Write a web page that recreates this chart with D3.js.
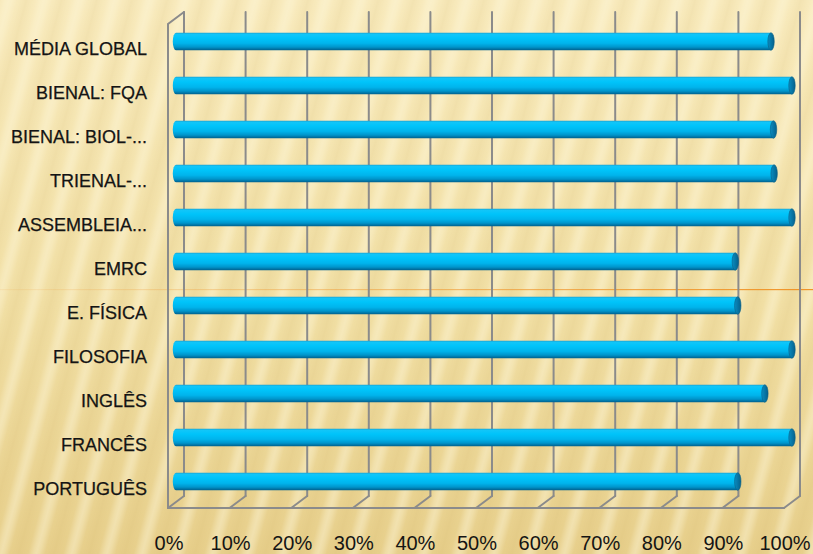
<!DOCTYPE html>
<html><head><meta charset="utf-8">
<script src="https://cdn.jsdelivr.net/npm/d3@7"></script>
<style>html,body{margin:0;padding:0;overflow:hidden;background:#f3e2a8}</style>
</head><body>
<script>
const categories = ["MÉDIA GLOBAL","BIENAL: FQA","BIENAL: BIOL-...","TRIENAL-...","ASSEMBLEIA...","EMRC","E. FÍSICA","FILOSOFIA","INGLÊS","FRANCÊS","PORTUGUÊS"];
const values = [0.966, 1.0, 0.97, 0.971, 1.0, 0.908, 0.912, 1.0, 0.956, 1.0, 0.912];
const tickValues = [0,0.1,0.2,0.3,0.4,0.5,0.6,0.7,0.8,0.9,1.0];

const W = 813, H = 554;
const svg = d3.select("body").append("svg").attr("width", W).attr("height", H);
const defs = svg.append("defs");

// background
const bg = defs.append("linearGradient").attr("id","bg").attr("x1",0).attr("y1",0).attr("x2",0).attr("y2",1);
bg.append("stop").attr("offset","0%").attr("stop-color","#f8eabc");
bg.append("stop").attr("offset","55%").attr("stop-color","#f1dfa4");
bg.append("stop").attr("offset","100%").attr("stop-color","#e7cf8b");
svg.append("rect").attr("width",W).attr("height",H).attr("fill","url(#bg)");

const sg = defs.append("linearGradient").attr("id","stripeG").attr("x1",0).attr("y1",0).attr("x2",1).attr("y2",0);
[[0,0],[0.35,0.4],[0.5,0.5],[0.65,0.4],[1,0]].forEach(s=>sg.append("stop").attr("offset",s[0]).attr("stop-color","#fff8dc").attr("stop-opacity",s[1]));
const pat = defs.append("pattern").attr("id","stripes").attr("patternUnits","userSpaceOnUse")
  .attr("width",34).attr("height",40).attr("patternTransform","rotate(15)");
pat.append("rect").attr("x",0).attr("width",17).attr("height",40).attr("fill","url(#stripeG)");
const dg = defs.append("linearGradient").attr("id","stripeD").attr("x1",0).attr("y1",0).attr("x2",1).attr("y2",0);
[[0,0],[0.5,0.12],[1,0]].forEach(s=>dg.append("stop").attr("offset",s[0]).attr("stop-color","#c9a85a").attr("stop-opacity",s[1]));
pat.append("rect").attr("x",17).attr("width",17).attr("height",40).attr("fill","url(#stripeD)");
svg.append("rect").attr("width",W).attr("height",H).attr("fill","url(#stripes)").attr("opacity",0.85);

// orange line
const og = defs.append("linearGradient").attr("id","og").attr("x1",0).attr("y1",0).attr("x2",1).attr("y2",0);
og.append("stop").attr("offset","0%").attr("stop-color","#f0a040").attr("stop-opacity",0.12);
og.append("stop").attr("offset","100%").attr("stop-color","#f09020").attr("stop-opacity",0.95);
svg.append("rect").attr("x",0).attr("y",289).attr("width",W).attr("height",1.2).attr("fill","url(#og)");

// scales
const DX = 16, DY = 12;
const xFront = d3.scaleLinear().domain([0,1]).range([168,784]);
const xBack = d3.scaleLinear().domain([0,1]).range([168+DX,784+DX]);
const xBar = d3.scaleLinear().domain([0,1]).range([176,792]);
const y = d3.scaleBand().domain(categories).range([24,508]).paddingInner(0).paddingOuter(0);
const yTop = 24, yBot = 508;

const grid = svg.append("g").attr("stroke","#8b8b8b").attr("stroke-width",2).attr("fill","none").attr("stroke-linecap","round");
grid.selectAll("line.v").data(tickValues).join("line").attr("class","v")
  .attr("x1",d=>xBack(d)).attr("x2",d=>xBack(d)).attr("y1",yTop-DY).attr("y2",yBot-DY);
grid.selectAll("line.f").data(tickValues).join("line").attr("class","f")
  .attr("x1",d=>xFront(d)).attr("x2",d=>xBack(d)).attr("y1",yBot).attr("y2",yBot-DY);
grid.append("line").attr("x1",xFront(0)).attr("x2",xFront(1)).attr("y1",yBot).attr("y2",yBot);
grid.append("path").attr("d",`M${xFront(0)},${yBot}L${xFront(0)},${yTop}L${xBack(0)},${yTop-DY}`);

// bars
const bgBar = defs.append("linearGradient").attr("id","barG").attr("x1",0).attr("y1",0).attr("x2",0).attr("y2",1);
[["0%","#1a9fd0"],["8%","#12c6f8"],["30%","#00c4fa"],["60%","#00b4ec"],["82%","#0094ca"],["100%","#005f8c"]]
  .forEach(s=>bgBar.append("stop").attr("offset",s[0]).attr("stop-color",s[1]));
const capG = defs.append("linearGradient").attr("id","capG").attr("x1",0).attr("y1",0).attr("x2",1).attr("y2",0);
capG.append("stop").attr("offset","0%").attr("stop-color","#0a8cc0");
capG.append("stop").attr("offset","100%").attr("stop-color","#05618c");

const BH = 17.5, RX = 3.2, OFF = -4.5;
const bars = svg.append("g").selectAll("g").data(categories).join("g");
bars.append("path")
  .attr("d",(d,i)=>{
    const cy = y(d)+y.bandwidth()/2+OFF, t = cy-BH/2, b = cy+BH/2;
    const x0 = xBar(0), x1 = xBar(values[i]);
    return `M${x1},${t}L${x0},${t}A${RX},${BH/2} 0 0 0 ${x0},${b}L${x1},${b}Z`;
  })
  .attr("fill","url(#barG)");
bars.append("ellipse")
  .attr("cx",(d,i)=>xBar(values[i])).attr("cy",d=>y(d)+y.bandwidth()/2+OFF)
  .attr("rx",RX).attr("ry",BH/2)
  .attr("fill","url(#capG)").attr("stroke","#0a5f85").attr("stroke-width",0.6);

// category labels
svg.append("g").selectAll("text").data(categories).join("text")
  .attr("x",147).attr("y",d=>y(d)+y.bandwidth()/2+9)
  .attr("text-anchor","end").attr("font-family","Liberation Sans, Arial, sans-serif")
  .attr("font-size",18).attr("fill","#141414").attr("stroke","#141414").attr("stroke-width",0.25)
  .text(d=>d);

// tick labels
svg.append("g").selectAll("text").data(tickValues).join("text")
  .attr("x",d=>xFront(d)+1).attr("y",550)
  .attr("text-anchor","middle").attr("font-family","Liberation Sans, Arial, sans-serif")
  .attr("font-size",20).attr("fill","#141414").text(d3.format(".0%"));
</script>
</body></html>
